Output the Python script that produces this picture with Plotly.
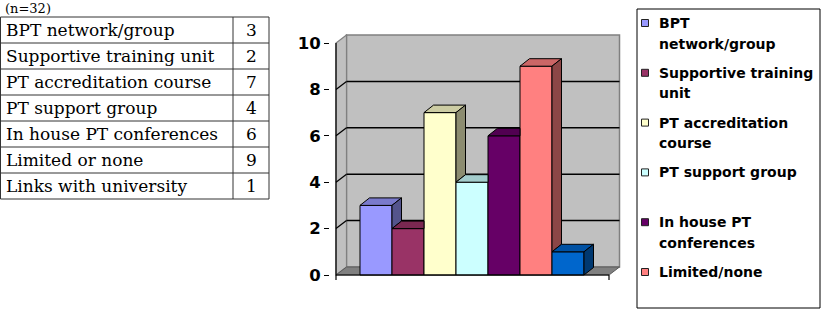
import plotly.graph_objects as go

# ---------------- data ----------------
table_labels = ["BPT network/group", "Supportive training unit", "PT accreditation course",
                "PT support group", "In house PT conferences", "Limited or none",
                "Links with university"]
counts = [3, 2, 7, 4, 6, 9, 1]
series_names = ["BPT<br>network/group", "Supportive training<br>unit", "PT accreditation<br>course",
                "PT support group", "In house PT<br>conferences", "Limited/none",
                "Links with university"]
bar_colors = ["#9999FF", "#993366", "#FFFFCC", "#CCFFFF", "#660066", "#FF8080", "#0066CC"]
y_ticks = [0, 2, 4, 6, 8, 10]
sample_note = "(n=32)"
legend_shown = 6          # last entry is cut off by the legend box in the original

# ---------------- layout geometry (pixels) ----------------
W, H = 830, 310
def px(x): return x / W
def py(y): return 1 - y / H

PLOT_L, PLOT_R, PLOT_T, PLOT_B = 330, 625, 30, 285
X0_PX, BAR_PX = 360, 32          # left edge of first bar, bar width
Y0_PX, UNIT_PX = 275, 23.2       # pixel of value 0, pixels per unit

def ux(p): return (p - X0_PX) / BAR_PX
def uy(p): return (Y0_PX - p) / UNIT_PX

x_lo, x_hi = ux(PLOT_L), ux(PLOT_R)
y_lo, y_hi = uy(PLOT_B), uy(PLOT_T)
xa0, xa1 = ux(336), ux(609)      # front floor edges
dxw, dyw = 10.5 / BAR_PX, 8 / UNIT_PX
dxb, dyb = 9.5 / BAR_PX, 7.5 / UNIT_PX
ymax = max(y_ticks)

def shade(hexc, f):
    r, g, b = int(hexc[1:3], 16), int(hexc[3:5], 16), int(hexc[5:7], 16)
    return "#%02X%02X%02X" % (int(r * f), int(g * f), int(b * f))

fig = go.Figure()

# front faces of bars
fig.add_trace(go.Bar(x=[i + 0.5 for i in range(len(counts))], y=counts, width=1,
                     marker=dict(color=bar_colors, line=dict(color="black", width=1)),
                     showlegend=False, hoverinfo="skip"))

# top and side faces (clipped where the next bar covers them)
for i, v in enumerate(counts):
    L, R = i, i + 1
    nxt = counts[i + 1] if i + 1 < len(counts) else 0
    if nxt >= v:
        tx = [L, R, R, L + dxb, L]
        ty = [v, v, v + dyb, v + dyb, v]
    else:
        tx = [L, R, R + dxb, L + dxb, L]
        ty = [v, v, v + dyb, v + dyb, v]
    fig.add_trace(go.Scatter(x=tx, y=ty, mode="lines", fill="toself",
                             fillcolor=shade(bar_colors[i], 0.8),
                             line=dict(color="black", width=1),
                             showlegend=False, hoverinfo="skip"))
    if nxt < v:
        b = max(nxt, 0)
        sx = [R, R, R + dxb, R + dxb, R]
        sy = [b, v, v + dyb, b + dyb, b]
        fig.add_trace(go.Scatter(x=sx, y=sy, mode="lines", fill="toself",
                                 fillcolor=shade(bar_colors[i], 0.55),
                                 line=dict(color="black", width=1),
                                 showlegend=False, hoverinfo="skip"))

shapes = []
wall = "#C0C0C0"
edge = "#808080"
# back wall
shapes.append(dict(type="rect", xref="x", yref="y", x0=xa0 + dxw, x1=xa1 + dxw,
                   y0=dyw, y1=ymax + dyw, fillcolor=wall, line=dict(color=edge, width=1.5),
                   layer="below"))
# side wall
shapes.append(dict(type="path", xref="x", yref="y",
                   path=f"M{xa0},0 L{xa0},{ymax} L{xa0+dxw},{ymax+dyw} L{xa0+dxw},{dyw} Z",
                   fillcolor=wall, line=dict(color=edge, width=1.2), layer="below"))
# floor
shapes.append(dict(type="path", xref="x", yref="y",
                   path=f"M{xa0},0 L{xa1},0 L{xa1+dxw},{dyw} L{xa0+dxw},{dyw} Z",
                   fillcolor="#808080", line=dict(color="#5A5A5A", width=1), layer="below"))
# gridlines on walls
for t in y_ticks[1:-1]:
    shapes.append(dict(type="line", xref="x", yref="y", x0=xa0 + dxw, x1=xa1 + dxw,
                       y0=t + dyw, y1=t + dyw, line=dict(color="black", width=1.5),
                       layer="below"))
    shapes.append(dict(type="line", xref="x", yref="y", x0=xa0, x1=xa0 + dxw,
                       y0=t, y1=t + dyw, line=dict(color="black", width=1.2),
                       layer="below"))
# axes lines
shapes.append(dict(type="line", xref="x", yref="y", x0=xa0, x1=xa0, y0=0, y1=ymax,
                   line=dict(color="black", width=1.2)))
shapes.append(dict(type="line", xref="x", yref="y", x0=xa0, x1=xa1, y0=0, y1=0,
                   line=dict(color="black", width=1.2)))
for xx in (xa0, xa1):
    shapes.append(dict(type="line", xref="x", yref="y", x0=xx, x1=xx, y0=0,
                       y1=-5 / UNIT_PX, line=dict(color="black", width=1.2)))

annotations = []

# ---------------- table ----------------
T_TOP, ROW_H, T_L, T_SEP, T_R = 17, 26, 0.5, 233, 269
n_rows = len(table_labels)
tline = "#333333"
for k in range(n_rows + 1):
    yy = py(T_TOP + k * ROW_H)
    shapes.append(dict(type="line", xref="paper", yref="paper", x0=px(T_L), x1=px(T_R),
                       y0=yy, y1=yy, line=dict(color=tline, width=1)))
for xx in (T_L, T_SEP, T_R):
    shapes.append(dict(type="line", xref="paper", yref="paper", x0=px(xx), x1=px(xx),
                       y0=py(T_TOP), y1=py(T_TOP + n_rows * ROW_H),
                       line=dict(color=tline, width=1)))
serif = dict(family="DejaVu Serif", size=17, color="black")
for k, (lab, val) in enumerate(zip(table_labels, counts)):
    yc = py(T_TOP + k * ROW_H + ROW_H / 2)
    annotations.append(dict(xref="paper", yref="paper", x=px(4), y=yc, text=lab,
                            xanchor="left", yanchor="middle", showarrow=False, font=serif))
    annotations.append(dict(xref="paper", yref="paper", x=px((T_SEP + T_R) / 2), y=yc,
                            text=str(val), xanchor="center", yanchor="middle",
                            showarrow=False, font=serif))
annotations.append(dict(xref="paper", yref="paper", x=px(4), y=1, text=sample_note,
                        xanchor="left", yanchor="top", showarrow=False, borderpad=0,
                        font=dict(family="DejaVu Serif", size=13, color="black")))

# ---------------- legend (custom, Excel-like) ----------------
LG_L, LG_R, LG_T, LG_B = 637, 820, 9, 308
shapes.append(dict(type="rect", xref="paper", yref="paper", x0=px(LG_L), x1=px(LG_R),
                   y0=py(LG_B), y1=py(LG_T), line=dict(color="black", width=1),
                   fillcolor="white"))
FIRST_Y, ENTRY_PITCH, LINE_PITCH = 23, 49.8, 20.5
SQ_X, SQ = 645, 7
TXT_X = 657
lfont = dict(family="DejaVu Sans", size=14, color="black", weight="bold")
for i in range(legend_shown):
    y1 = FIRST_Y + i * ENTRY_PITCH
    shapes.append(dict(type="rect", xref="paper", yref="paper",
                       x0=px(SQ_X - SQ / 2), x1=px(SQ_X + SQ / 2),
                       y0=py(y1 + SQ / 2), y1=py(y1 - SQ / 2),
                       fillcolor=bar_colors[i], line=dict(color="#222222", width=1)))
    for j, line in enumerate(series_names[i].split("<br>")):
        annotations.append(dict(xref="paper", yref="paper", x=px(TXT_X),
                                y=py(y1 + j * LINE_PITCH), text=line, xanchor="left",
                                yanchor="middle", showarrow=False, font=lfont))

fig.update_layout(
    width=W, height=H, margin=dict(l=0, r=0, t=0, b=0, pad=0),
    paper_bgcolor="white", plot_bgcolor="white",
    showlegend=False, shapes=shapes, annotations=annotations,
    xaxis=dict(domain=[px(PLOT_L), px(PLOT_R)], range=[x_lo, x_hi], visible=False,
               fixedrange=True),
    yaxis=dict(domain=[py(PLOT_B), py(PLOT_T)], range=[y_lo, y_hi],
               tickvals=y_ticks, ticktext=[str(t) for t in y_ticks],
               ticks="outside", ticklen=5, tickcolor="black", tickwidth=1.2,
               showgrid=False, zeroline=False, showline=False,
               tickfont=dict(family="DejaVu Sans", size=16.5, color="black", weight="bold"),
               fixedrange=True),
)

fig.write_html("out.html")
